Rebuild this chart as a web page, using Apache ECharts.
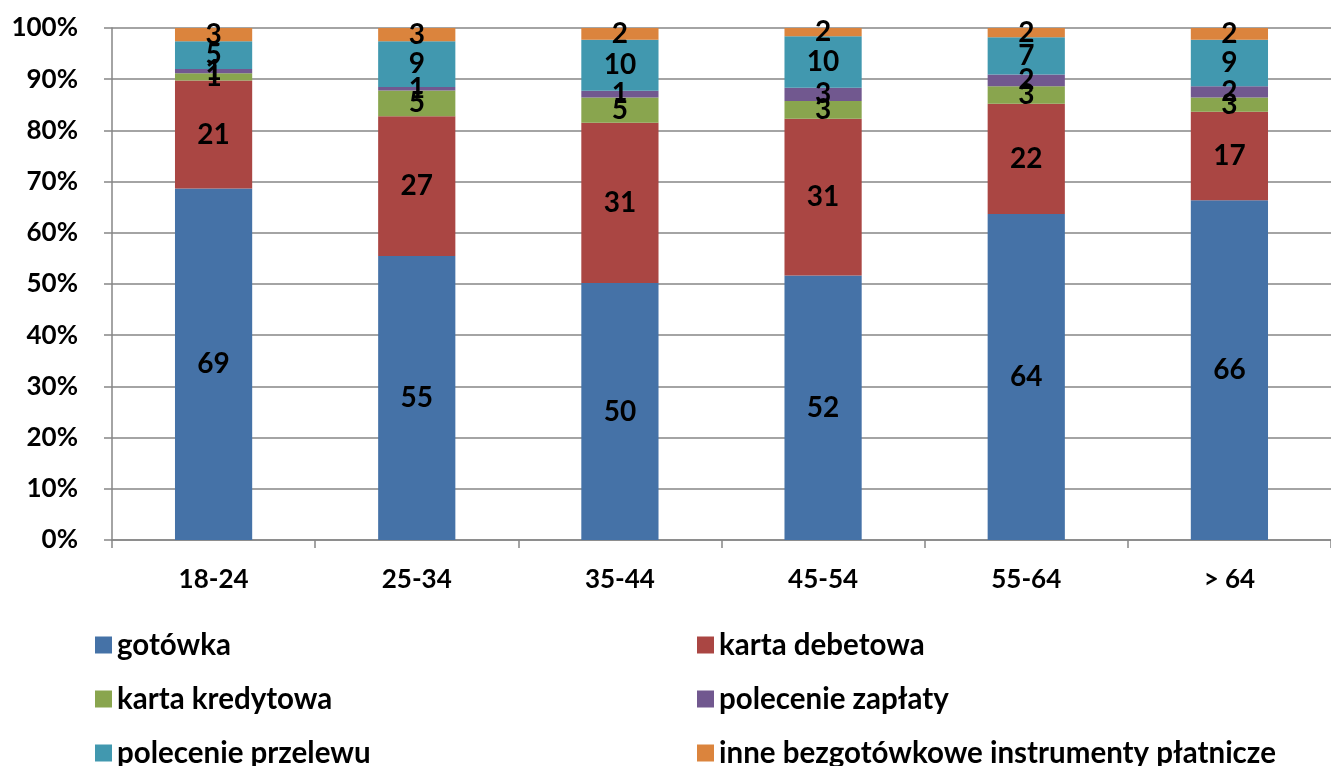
<!DOCTYPE html>
<html>
<head>
<meta charset="utf-8">
<script src="https://cdn.jsdelivr.net/npm/echarts@6/dist/echarts.min.js"></script>
<style>
html,body{margin:0;padding:0;background:#fff;}
#chart{width:1331px;height:766px;}
</style>
</head>
<body>
<div id="chart"></div>
<script>
// grupy wiekowe
var categories = ['18-24', '25-34', '35-44', '45-54', '55-64', '> 64'];
var seriesNames = ['gotówka', 'karta debetowa', 'karta kredytowa', 'polecenie zapłaty', 'polecenie przelewu', 'inne bezgotówkowe instrumenty płatnicze'];
var colors = ['#4572A7', '#AA4643', '#89A54E', '#71588F', '#4198AF', '#DB843D'];

// udzial w %
var gotowka = [68.75, 55.4, 50.2, 51.8, 63.9, 66.4];
var kartaDebetowa = [21.1, 27.3, 31.3, 30.7, 21.6, 17.3];
var kartaKredytowa = [1.43, 5.0, 4.96, 3.45, 3.45, 2.8];
var polecenieZaplaty = [0.86, 0.7, 1.3, 2.6, 2.3, 2.2];
var poleceniePrzelewu = [5.4, 8.9, 9.96, 10.1, 7.3, 9.06];
var inne = [2.6, 2.6, 2.3, 1.6, 1.8, 2.3];

var yTicks = [0, 10, 20, 30, 40, 50, 60, 70, 80, 90, 100];

var all = [gotowka, kartaDebetowa, kartaKredytowa, polecenieZaplaty, poleceniePrzelewu, inne];
var sums = categories.map(function (c, i) {
  var s = 0;
  all.forEach(function (arr) { s += arr[i]; });
  return s;
});

var font = 'Lato';

var series = all.map(function (arr, k) {
  return {
    name: seriesNames[k],
    type: 'bar',
    stack: 'total',
    barWidth: '38%',
    itemStyle: { color: colors[k] },
    label: {
      show: true,
      position: 'inside',
      color: '#000',
      fontFamily: font,
      fontWeight: 'bold',
      fontSize: 28,
      formatter: function (p) { return Math.round(arr[p.dataIndex]); }
    },
    data: arr.map(function (v, i) { return v / sums[i] * 100; })
  };
});

// legenda: 2 kolumny, 3 wiersze
var legends = seriesNames.map(function (name, k) {
  return {
    left: k % 2 === 0 ? 90 : 692,
    top: 625 + Math.floor(k / 2) * 54,
    itemWidth: 17, itemHeight: 17, itemGap: 8, icon: 'rect',
    textStyle: { fontFamily: font, fontWeight: 'bold', fontSize: 29.5, color: '#000' },
    data: [name]
  };
});

var chart = echarts.init(document.getElementById('chart'));
chart.setOption({
  animation: false,
  textStyle: { fontFamily: font },
  grid: { left: 112, top: 28, width: 1224, height: 512, containLabel: false },
  legend: legends,
  xAxis: {
    type: 'category',
    data: categories,
    axisLine: { lineStyle: { color: '#868686', width: 1.5 } },
    axisTick: { show: true, length: 8, lineStyle: { color: '#868686', width: 1.5 } },
    axisLabel: { color: '#000', fontFamily: font, fontWeight: 'bold', fontSize: 26, margin: 27 }
  },
  yAxis: {
    type: 'value',
    min: yTicks[0],
    max: yTicks[yTicks.length - 1],
    interval: 10,
    axisLine: { show: true, lineStyle: { color: '#868686', width: 1.5 } },
    axisTick: { show: true, length: 8, lineStyle: { color: '#868686', width: 1.5 } },
    splitLine: { lineStyle: { color: '#868686', width: 1.5 } },
    axisLabel: { color: '#000', fontFamily: font, fontWeight: 'bold', fontSize: 26, margin: 34, formatter: '{value}%' }
  },
  series: series
});
</script>
</body>
</html>
